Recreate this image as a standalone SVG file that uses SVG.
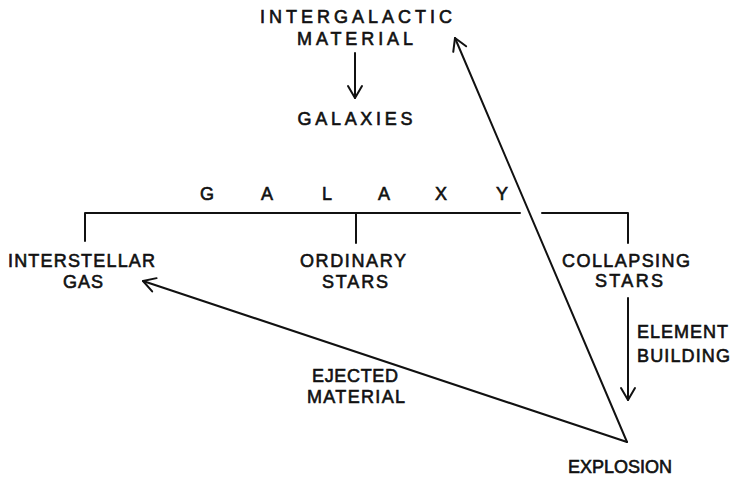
<svg xmlns="http://www.w3.org/2000/svg" width="734" height="477" viewBox="0 0 734 477">
<defs>
<style>
text{font-family:"Liberation Sans","DejaVu Sans",sans-serif;font-size:18px;fill:#111;stroke:#111;stroke-width:0.6;text-anchor:middle}
.ln{fill:none;stroke:#111;stroke-width:2;stroke-linecap:round;stroke-linejoin:round}
</style>
<marker id="ah" markerUnits="userSpaceOnUse" markerWidth="30" markerHeight="30" viewBox="-15 -15 30 30" refX="0" refY="0" orient="auto">
<path d="M-12,-7 L0,0 L-12,7" fill="none" stroke="#111" stroke-width="2" stroke-linecap="round" stroke-linejoin="round"/>
</marker>
</defs>
<rect width="734" height="477" fill="#fff"/>
<g id="intergalactic">
<text x="356" y="23" textLength="192" lengthAdjust="spacing">INTERGALACTIC</text>
<text x="355" y="45" textLength="116" lengthAdjust="spacing">MATERIAL</text>
</g>
<g id="galaxies"><text x="355" y="125" textLength="115" lengthAdjust="spacing">GALAXIES</text></g>
<g id="galaxy">
<text x="207" y="200">G</text><text x="267" y="200">A</text><text x="327" y="200">L</text><text x="384" y="200">A</text><text x="441" y="200">X</text><text x="502" y="200">Y</text>
</g>
<g id="interstellar">
<text x="81.5" y="267" textLength="147" lengthAdjust="spacing">INTERSTELLAR</text>
<text x="83" y="288" textLength="40" lengthAdjust="spacing">GAS</text>
</g>
<g id="ordinary">
<text x="353" y="267" textLength="106" lengthAdjust="spacing">ORDINARY</text>
<text x="355" y="288" textLength="66" lengthAdjust="spacing">STARS</text>
</g>
<g id="collapsing">
<text x="626" y="267" textLength="128" lengthAdjust="spacing">COLLAPSING</text>
<text x="629" y="287" textLength="68" lengthAdjust="spacing">STARS</text>
</g>
<g id="element">
<text x="682.5" y="338" textLength="91" lengthAdjust="spacing">ELEMENT</text>
<text x="683.5" y="362" textLength="93" lengthAdjust="spacing">BUILDING</text>
</g>
<g id="ejected">
<text x="355" y="382" textLength="86" lengthAdjust="spacing">EJECTED</text>
<text x="356" y="403" textLength="98" lengthAdjust="spacing">MATERIAL</text>
</g>
<g id="explosion"><text x="620" y="473" textLength="104" lengthAdjust="spacing">EXPLOSION</text></g>
<g id="connectors">
<path class="ln" d="M85,241 V213 H520 M542,213 H628 V243 M356,213 V243"/>
<path class="ln" d="M355,53 V98" marker-end="url(#ah)"/>
<path class="ln" d="M628,298 V400" marker-end="url(#ah)"/>
<path class="ln" d="M627,442 L455,38" marker-end="url(#ah)"/>
<path class="ln" d="M627,442 L143,281" marker-end="url(#ah)"/>
</g>
</svg>
